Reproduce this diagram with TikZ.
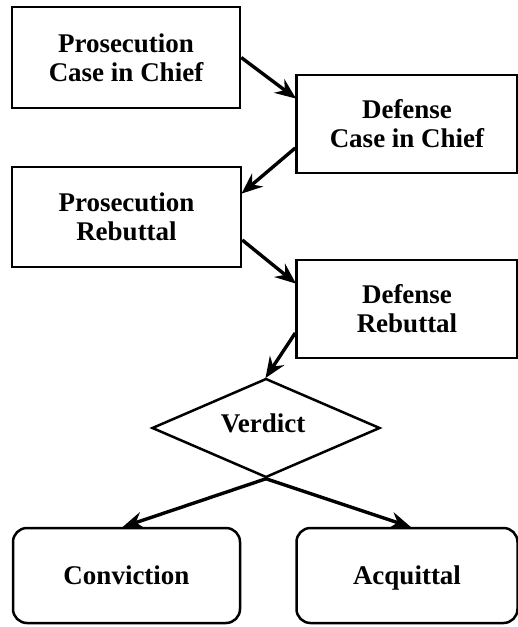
\documentclass[tikz,border=0pt]{standalone}
\usepackage{fontspec}
\setmainfont{Liberation Serif}
\usetikzlibrary{shapes.geometric,arrows.meta}

\tikzset{
  labelfont/.style={font=\fontsize{27}{29}\selectfont\bfseries},
  stage/.style={draw, line width=2.5pt, align=center, inner sep=0pt, labelfont},
  outcome/.style={stage, rounded corners=14pt, text height=21pt, text depth=4pt},
  decision/.style={draw, diamond, line width=2.5pt, inner sep=0pt},
  flow/.style={line width=3.4pt,
    -{Stealth[length=21pt,width=17pt,inset=7pt]}, shorten >=-1pt}
}

\begin{document}
\begin{tikzpicture}[x=1pt,y=-1pt]
  \useasboundingbox (0,0) rectangle (518,627);

  % trial stages
  \node[stage, minimum width=228pt, minimum height=101pt] (pcc) at (126,57.5)
    {Prosecution\\Case in Chief};
  \node[stage, minimum width=221pt, minimum height=98pt] (dcc) at (407,124)
    {Defense\\Case in Chief};
  \node[stage, minimum width=229pt, minimum height=100pt] (prb) at (126.5,217)
    {Prosecution\\Rebuttal};
  \node[stage, minimum width=221pt, minimum height=98pt] (drb) at (407,309)
    {Defense\\Rebuttal};

  % decision
  \node[decision, minimum width=228pt, minimum height=99pt] (ver) at (266,428) {};
  \node[labelfont] (vtxt) at (263,423) {Verdict};

  % outcomes
  \node[outcome, minimum width=227pt, minimum height=95pt] (con) at (126.5,575.5)
    {Conviction};
  \node[outcome, minimum width=221pt, minimum height=95pt] (acq) at (407,575.5)
    {Acquittal};

  % connectors
  \draw[flow] (pcc.east) -- ([yshift=26pt]dcc.west);
  \draw[flow] ([yshift=-24pt]dcc.west) -- ([yshift=24pt]prb.east);
  \draw[flow] ([yshift=-23pt]prb.east) -- ([yshift=26pt]drb.west);
  \draw[flow] ([yshift=-24pt]drb.west) -- (ver.north);
  \draw[flow] (ver.south) -- ([xshift=-3pt]con.north);
  \draw[flow] (ver.south) -- ([xshift=3pt]acq.north);
\end{tikzpicture}
\end{document}
